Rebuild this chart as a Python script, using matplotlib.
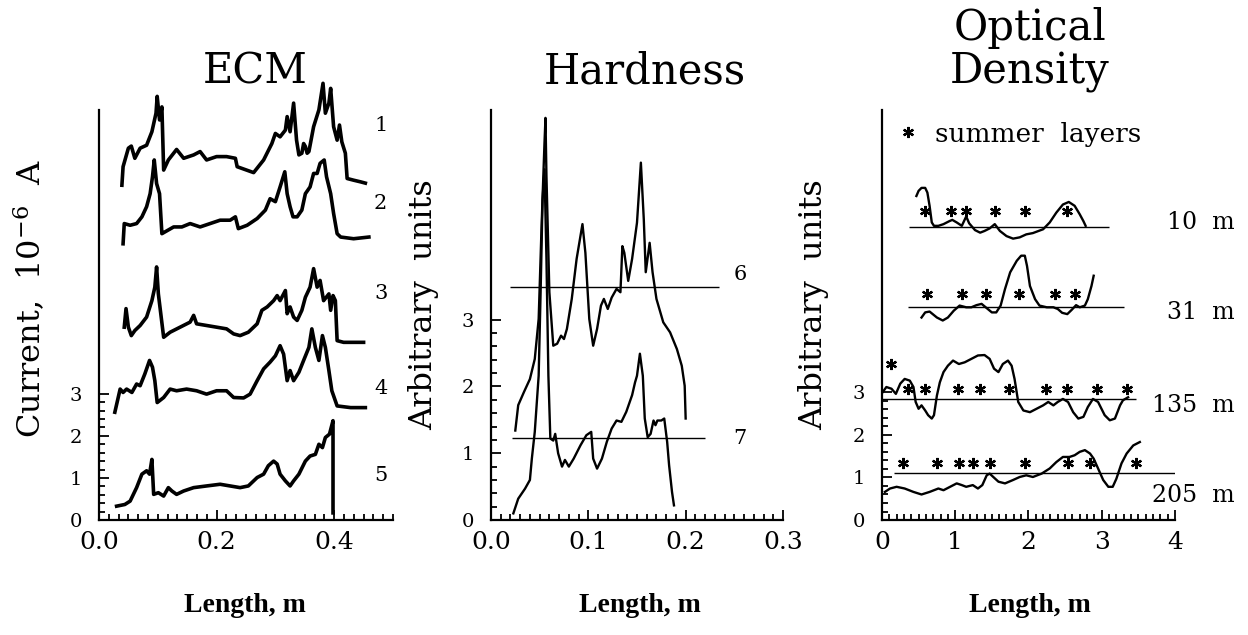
import numpy as np
import matplotlib
matplotlib.use("Agg")
import matplotlib.pyplot as plt
from matplotlib.ticker import FixedLocator, MultipleLocator, NullFormatter

plt.rcParams['font.family'] = ['DejaVu Serif']
plt.rcParams['mathtext.fontset'] = 'dejavuserif'

# ---- ECM traces (length m, current 1e-6 A, stacked) ----
ecm1_x = [0.039, 0.041, 0.050, 0.055, 0.061, 0.070, 0.081, 0.090, 0.097, 0.099, 0.103, 0.107, 0.110,
          0.118, 0.132, 0.144, 0.161, 0.172, 0.183, 0.200, 0.217, 0.232, 0.235, 0.263, 0.280, 0.294,
          0.300, 0.308, 0.317, 0.320, 0.325, 0.331, 0.336, 0.340, 0.345, 0.348, 0.351, 0.354, 0.357,
          0.365, 0.374, 0.381, 0.385, 0.391, 0.394, 0.399, 0.405, 0.409, 0.413, 0.419, 0.422, 0.433,
          0.445, 0.453]
ecm1_y = [7.95, 8.39, 8.83, 8.88, 8.59, 8.83, 8.90, 9.22, 9.66, 10.06, 9.50, 9.81, 8.31,
          8.55, 8.80, 8.59, 8.67, 8.75, 8.55, 8.63, 8.63, 8.59, 8.39, 8.25, 8.55, 8.94,
          9.18, 9.10, 9.26, 9.58, 9.22, 9.90, 9.02, 8.67, 8.71, 8.94, 8.87, 8.71, 8.75,
          9.34, 9.74, 10.37, 9.66, 9.90, 10.25, 9.34, 9.02, 9.38, 8.98, 8.71, 8.11, 8.07,
          8.03, 8.00]

ecm2_x = [0.041, 0.043, 0.053, 0.064, 0.073, 0.081, 0.087, 0.091, 0.094, 0.098, 0.103, 0.107, 0.112,
          0.127, 0.141, 0.155, 0.172, 0.189, 0.206, 0.223, 0.232, 0.237, 0.252, 0.269, 0.283, 0.291,
          0.300, 0.308, 0.316, 0.320, 0.325, 0.330, 0.337, 0.345, 0.351, 0.359, 0.365, 0.371, 0.376,
          0.383, 0.387, 0.394, 0.399, 0.405, 0.411, 0.433, 0.459]
ecm2_y = [6.56, 7.04, 7.00, 7.04, 7.20, 7.44, 7.75, 8.15, 8.55, 7.99, 7.75, 6.80, 6.84,
          6.96, 6.96, 7.04, 6.96, 7.04, 7.12, 7.12, 7.20, 6.92, 7.00, 7.16, 7.36, 7.63,
          7.56, 7.91, 8.27, 7.75, 7.44, 7.20, 7.20, 7.36, 7.75, 7.91, 8.23, 8.23, 8.47,
          8.55, 8.15, 7.75, 7.28, 6.80, 6.72, 6.68, 6.72]

ecm3_x = [0.043, 0.046, 0.050, 0.055, 0.061, 0.070, 0.081, 0.090, 0.095, 0.098, 0.101, 0.110, 0.121,
          0.138, 0.155, 0.161, 0.166, 0.183, 0.200, 0.217, 0.229, 0.240, 0.254, 0.269, 0.277, 0.286,
          0.297, 0.303, 0.308, 0.317, 0.320, 0.325, 0.331, 0.337, 0.345, 0.351, 0.359, 0.365, 0.371,
          0.376, 0.382, 0.391, 0.394, 0.398, 0.402, 0.405, 0.416, 0.450]
ecm3_y = [4.58, 5.02, 4.58, 4.38, 4.50, 4.62, 4.82, 5.21, 5.53, 6.01, 5.37, 4.34, 4.46,
          4.58, 4.70, 4.86, 4.66, 4.62, 4.58, 4.54, 4.42, 4.38, 4.46, 4.66, 4.98, 5.06,
          5.21, 5.33, 5.21, 5.45, 4.90, 5.06, 4.82, 4.74, 4.98, 5.29, 5.53, 5.97, 5.53,
          5.69, 5.21, 5.37, 4.98, 5.33, 5.21, 4.26, 4.22, 4.22]

ecm4_x = [0.027, 0.036, 0.041, 0.047, 0.056, 0.064, 0.070, 0.078, 0.086, 0.091, 0.095, 0.099, 0.110,
          0.121, 0.132, 0.149, 0.166, 0.183, 0.200, 0.217, 0.229, 0.246, 0.257, 0.269, 0.280, 0.291,
          0.300, 0.308, 0.314, 0.320, 0.325, 0.331, 0.340, 0.348, 0.357, 0.362, 0.368, 0.374, 0.380,
          0.385, 0.391, 0.396, 0.405, 0.428, 0.453]
ecm4_y = [2.56, 3.11, 3.03, 3.11, 3.03, 3.23, 3.19, 3.47, 3.79, 3.63, 3.31, 2.79, 2.91,
          3.11, 3.07, 3.11, 3.07, 2.99, 3.07, 3.07, 2.91, 2.90, 2.99, 3.31, 3.59, 3.75,
          3.90, 4.14, 3.94, 3.31, 3.55, 3.31, 3.51, 3.79, 4.10, 4.54, 4.10, 3.79, 4.38,
          4.10, 3.55, 3.07, 2.71, 2.67, 2.67]

ecm5_x = [0.030, 0.044, 0.053, 0.064, 0.073, 0.081, 0.086, 0.090, 0.093, 0.101, 0.110, 0.118, 0.124,
          0.132, 0.144, 0.161, 0.183, 0.206, 0.223, 0.240, 0.254, 0.269, 0.280, 0.288, 0.297, 0.303,
          0.308, 0.317, 0.325, 0.331, 0.340, 0.351, 0.359, 0.368, 0.374, 0.380, 0.385, 0.392, 0.398,
          0.398]
ecm5_y = [0.33, 0.37, 0.45, 0.77, 1.09, 1.17, 1.09, 1.44, 0.61, 0.65, 0.57, 0.77, 0.69,
          0.61, 0.69, 0.77, 0.81, 0.85, 0.81, 0.77, 0.81, 1.01, 1.09, 1.29, 1.40, 1.33,
          1.09, 0.93, 0.81, 0.93, 1.09, 1.40, 1.52, 1.56, 1.80, 1.72, 1.96, 2.04, 2.36,
          0.17]

ecm_traces = [(ecm1_x, ecm1_y), (ecm2_x, ecm2_y), (ecm3_x, ecm3_y), (ecm4_x, ecm4_y), (ecm5_x, ecm5_y)]
ecm_labels = ['1', '2', '3', '4', '5']
ecm_label_y = [9.38, 7.52, 5.38, 3.12, 1.05]

# ---- Hardness (length m, arbitrary units) ----
hard6_x = [0.025, 0.028, 0.034, 0.040, 0.045, 0.049, 0.052, 0.055, 0.056, 0.057, 0.060, 0.064, 0.068,
           0.072, 0.075, 0.078, 0.083, 0.088, 0.094, 0.097, 0.101, 0.105, 0.109, 0.113, 0.116, 0.120,
           0.124, 0.129, 0.133, 0.135, 0.137, 0.141, 0.145, 0.150, 0.154, 0.157, 0.159, 0.163, 0.166,
           0.170, 0.177, 0.184, 0.191, 0.196, 0.199, 0.200]
hard6_y = [1.34, 1.72, 1.92, 2.11, 2.41, 3.01, 4.40, 5.65, 6.02, 5.15, 3.41, 2.61, 2.64,
           2.76, 2.71, 2.86, 3.31, 3.91, 4.43, 4.00, 3.01, 2.61, 2.86, 3.21, 3.31, 3.16,
           3.33, 3.46, 3.41, 4.10, 4.00, 3.58, 3.91, 4.45, 5.35, 4.50, 3.71, 4.15, 3.71,
           3.31, 2.96, 2.81, 2.56, 2.31, 2.01, 1.52]

hard7_x = [0.023, 0.028, 0.035, 0.040, 0.042, 0.045, 0.049, 0.051, 0.053, 0.055, 0.057, 0.059, 0.061,
           0.064, 0.066, 0.069, 0.073, 0.076, 0.080, 0.085, 0.092, 0.098, 0.103, 0.105, 0.109, 0.114,
           0.119, 0.124, 0.129, 0.134, 0.139, 0.145, 0.148, 0.150, 0.153, 0.156, 0.158, 0.161, 0.164,
           0.167, 0.169, 0.171, 0.175, 0.178, 0.181, 0.183, 0.186, 0.188]
hard7_y = [0.10, 0.32, 0.47, 0.60, 0.92, 1.32, 2.16, 3.41, 4.80, 5.25, 3.91, 2.16, 1.22,
           1.19, 1.29, 1.00, 0.80, 0.90, 0.80, 0.92, 1.12, 1.27, 1.32, 0.92, 0.77, 0.92,
           1.17, 1.37, 1.49, 1.47, 1.62, 1.87, 2.06, 2.16, 2.49, 2.16, 1.52, 1.24, 1.29,
           1.49, 1.42, 1.49, 1.49, 1.52, 1.17, 0.82, 0.42, 0.22]

hard_base_y = [3.49, 1.23]
hard_base_x0 = [0.020, 0.022]
hard_base_x1 = [0.234, 0.220]
hard_labels = ['6', '7']
hard_label_y = [3.68, 1.22]

# ---- Optical density (length m, arbitrary units) ----
od10_x = [0.47, 0.50, 0.54, 0.59, 0.62, 0.65, 0.68, 0.71, 0.77, 0.84, 0.92, 0.96, 1.02, 1.09, 1.15,
          1.19, 1.27, 1.34, 1.40, 1.47, 1.54, 1.61, 1.70, 1.79, 1.88, 1.97, 2.06, 2.20, 2.29, 2.38,
          2.47, 2.55, 2.63, 2.70, 2.75, 2.78]
od10_y = [7.60, 7.72, 7.79, 7.79, 7.68, 7.37, 6.98, 6.90, 6.90, 6.94, 7.01, 7.04, 6.98, 6.90, 7.12,
          6.96, 6.80, 6.74, 6.78, 6.84, 6.94, 6.78, 6.66, 6.60, 6.63, 6.70, 6.73, 6.82, 6.98, 7.21,
          7.40, 7.46, 7.37, 7.17, 7.01, 6.90]

od31_x = [0.54, 0.59, 0.65, 0.75, 0.83, 0.90, 0.98, 1.06, 1.15, 1.22, 1.29, 1.36, 1.43, 1.50, 1.56,
          1.62, 1.68, 1.75, 1.84, 1.90, 1.95, 1.98, 2.02, 2.09, 2.15, 2.25, 2.34, 2.40, 2.46, 2.53,
          2.59, 2.65, 2.70, 2.77, 2.81, 2.86, 2.89]
od31_y = [4.75, 4.87, 4.89, 4.75, 4.68, 4.75, 4.91, 5.03, 4.99, 4.99, 5.04, 5.07, 4.97, 4.87, 4.87,
          5.03, 5.42, 5.81, 6.08, 6.20, 6.20, 5.96, 5.49, 5.18, 5.03, 4.99, 4.99, 4.95, 4.86, 4.83,
          4.93, 5.04, 4.99, 5.03, 5.18, 5.49, 5.73]

od135_x = [0.01, 0.06, 0.13, 0.19, 0.25, 0.31, 0.38, 0.43, 0.46, 0.50, 0.54, 0.59, 0.63, 0.68, 0.71,
           0.75, 0.79, 0.84, 0.90, 0.97, 1.05, 1.13, 1.22, 1.31, 1.40, 1.47, 1.53, 1.59, 1.65, 1.72,
           1.77, 1.81, 1.86, 1.93, 2.02, 2.11, 2.20, 2.27, 2.34, 2.40, 2.47, 2.54, 2.61, 2.68, 2.75,
           2.81, 2.88, 2.95, 3.04, 3.11, 3.18, 3.25, 3.29, 3.36]
od135_y = [3.00, 3.12, 3.08, 2.96, 3.20, 3.31, 3.27, 3.12, 2.77, 2.61, 2.69, 2.57, 2.46, 2.38, 2.46,
           2.92, 3.23, 3.47, 3.62, 3.74, 3.66, 3.70, 3.78, 3.86, 3.87, 3.78, 3.55, 3.47, 3.66, 3.74,
           3.62, 3.31, 2.77, 2.57, 2.53, 2.61, 2.69, 2.77, 2.69, 2.77, 2.84, 2.77, 2.53, 2.38, 2.42,
           2.65, 2.84, 2.77, 2.46, 2.34, 2.38, 2.69, 2.81, 2.88]

od205_x = [0.04, 0.11, 0.20, 0.31, 0.43, 0.54, 0.65, 0.77, 0.84, 0.93, 1.02, 1.09, 1.15, 1.24, 1.31,
           1.37, 1.43, 1.47, 1.52, 1.59, 1.68, 1.79, 1.88, 1.97, 2.06, 2.18, 2.29, 2.38, 2.47, 2.56,
           2.63, 2.70, 2.77, 2.84, 2.89, 2.95, 3.02, 3.09, 3.15, 3.20, 3.27, 3.34, 3.43, 3.52]
od205_y = [0.66, 0.74, 0.78, 0.74, 0.66, 0.60, 0.66, 0.74, 0.70, 0.78, 0.86, 0.82, 0.78, 0.82, 0.74,
           0.82, 1.05, 1.09, 1.01, 0.90, 0.86, 0.94, 1.01, 1.05, 1.01, 1.09, 1.21, 1.36, 1.48, 1.48,
           1.52, 1.60, 1.64, 1.56, 1.44, 1.21, 0.94, 0.78, 0.78, 0.97, 1.33, 1.56, 1.75, 1.83]

od_traces = [(od10_x, od10_y), (od31_x, od31_y), (od135_x, od135_y), (od205_x, od205_y)]
od_labels = ['10  m', '31  m', '135  m', '205  m']
od_label_y = [6.98, 4.87, 2.69, 0.58]
od_base_y = [6.87, 4.99, 2.84, 1.11]
od_base_x0 = [0.37, 0.36, 0.00, 0.16]
od_base_x1 = [3.10, 3.31, 3.47, 4.00]

# summer layer markers
star10_x = [0.59, 0.94, 1.15, 1.54, 1.95, 2.52]
star31_x = [0.62, 1.09, 1.42, 1.87, 2.36, 2.63]
star135_x = [0.13, 0.36, 0.59, 1.04, 1.34, 1.73, 2.24, 2.53, 2.93, 3.35]
star135_y = [3.66, 3.08, 3.08, 3.08, 3.08, 3.08, 3.08, 3.08, 3.08, 3.08]
star205_x = [0.29, 0.75, 1.05, 1.24, 1.48, 1.95, 2.54, 2.84, 3.47]
star10_y = 7.25
star31_y = 5.30
star205_y = 1.33


def style_axis(ax, xmax, xmajor, xminor, ymax, fmt):
    ax.set_xlim(0, xmax)
    ax.set_ylim(0, ymax)
    for s in ('top', 'right'):
        ax.spines[s].set_visible(False)
    for s in ('left', 'bottom'):
        ax.spines[s].set_linewidth(1.6)
    ax.xaxis.set_major_locator(MultipleLocator(xmajor))
    ax.xaxis.set_minor_locator(MultipleLocator(xminor))
    ax.xaxis.set_major_formatter(plt.FuncFormatter(lambda v, p: fmt.format(v)))
    ax.yaxis.set_major_locator(FixedLocator([0, 1, 2, 3]))
    ax.yaxis.set_minor_locator(FixedLocator(np.arange(0, 3.01, 0.2)))
    ax.yaxis.set_minor_formatter(NullFormatter())
    ax.tick_params(which='both', direction='in', width=1.3)
    ax.tick_params(which='major', length=7)
    ax.tick_params(which='minor', length=4)
    ax.tick_params(axis='x', which='major', labelsize=18, pad=8)
    ax.tick_params(axis='y', which='major', labelsize=14, pad=12)


fig = plt.figure(figsize=(12.48, 6.35), dpi=100)

# ECM
ax1 = fig.add_axes([0.0793, 0.181, 0.2356, 0.646])
style_axis(ax1, 0.5, 0.2, 0.2 / 12, 9.74, '{:.1f}')
for (tx, ty), lab, ly in zip(ecm_traces, ecm_labels, ecm_label_y):
    ax1.plot(tx, ty, color='black', lw=2.6, clip_on=False)
    ax1.text(0.479, ly, lab, fontsize=15, ha='center', va='center')

# Hardness
ax2 = fig.add_axes([0.3934, 0.181, 0.234, 0.646])
style_axis(ax2, 0.3, 0.1, 0.01, 6.14, '{:.1f}')
ax2.plot(hard6_x, hard6_y, color='black', lw=1.7, clip_on=False)
ax2.plot(hard7_x, hard7_y, color='black', lw=1.7, clip_on=False)
ax2.hlines(hard_base_y, hard_base_x0, hard_base_x1, color='black', lw=1.0)
for lab, ly in zip(hard_labels, hard_label_y):
    ax2.text(0.256, ly, lab, fontsize=15, ha='center', va='center')

# Optical density
ax3 = fig.add_axes([0.7067, 0.181, 0.2348, 0.646])
style_axis(ax3, 4, 1, 0.1, 9.62, '{:.0f}')
for (tx, ty) in od_traces:
    ax3.plot(tx, ty, color='black', lw=1.7, clip_on=False)
ax3.hlines(od_base_y, od_base_x0, od_base_x1, color='black', lw=1.0)
for lab, ly in zip(od_labels, od_label_y):
    ax3.text(4.81, ly, lab, fontsize=17, ha='right', va='center')
star_kw = dict(marker=(6, 2, 0), color='black', ms=8, mew=1.6, ls='none', clip_on=False)
ax3.plot(star10_x, [star10_y] * len(star10_x), **star_kw)
ax3.plot(star31_x, [star31_y] * len(star31_x), **star_kw)
ax3.plot(star135_x, star135_y, **star_kw)
ax3.plot(star205_x, [star205_y] * len(star205_x), **star_kw)
ax3.plot([0.36], [9.1], **star_kw)
ax3.text(0.72, 9.05, 'summer  layers', fontsize=19, ha='left', va='center')

# y labels
fig.text(30 / 1248, 1 - 298 / 635, 'Current,  10$^{-6}$  A', fontsize=23, rotation=90,
         ha='center', va='center')
fig.text(424 / 1248, 1 - 305 / 635, 'Arbitrary  units', fontsize=23, rotation=90,
         ha='center', va='center')
fig.text(814 / 1248, 1 - 305 / 635, 'Arbitrary  units', fontsize=23, rotation=90,
         ha='center', va='center')

# titles and x labels
fig.text(255 / 1248, 1 - 72 / 635, 'ECM', fontsize=30, ha='center', va='center')
fig.text(645 / 1248, 1 - 72 / 635, 'Hardness', fontsize=30, ha='center', va='center')
fig.text(1030 / 1248, 1 - 28 / 635, 'Optical', fontsize=30, ha='center', va='center')
fig.text(1030 / 1248, 1 - 72 / 635, 'Density', fontsize=30, ha='center', va='center')
for cx in (245, 640, 1030):
    fig.text(cx / 1248, 1 - 605 / 635, 'Length, m', fontsize=20, ha='center', va='center',
             family='Liberation Serif', weight='bold')

fig.savefig('out.png', dpi=100)
